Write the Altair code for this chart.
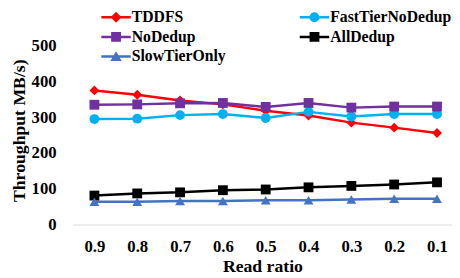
import altair as alt
import pandas as pd

read_ratio = ["0.9", "0.8", "0.7", "0.6", "0.5", "0.4", "0.3", "0.2", "0.1"]
series_names = ["TDDFS", "FastTierNoDedup", "NoDedup", "AllDedup", "SlowTierOnly"]
tddfs = [375, 363, 347, 336, 318, 305, 285, 271, 256]
fast_tier_no_dedup = [295, 296, 306, 309, 298, 315, 302, 309, 309]
no_dedup = [335, 336, 339, 340, 329, 340, 327, 330, 330]
all_dedup = [81, 87, 90, 96, 98, 104, 108, 112, 118]
slow_tier_only = [64, 64, 66, 66, 68, 68, 70, 72, 72]
y_ticks = [0, 100, 200, 300, 400, 500]

colors = ["#FF0000", "#00B0F0", "#7030A0", "#000000", "#4472C4"]
shapes = ["diamond", "circle", "square", "square", "triangle-up"]
# legend symbols: a short line with the marker on it
bar = "M-1,-0.25H5V0.25H-1Z "
legend_shapes = [
    bar + "M2,-1.1L3.1,0L2,1.1L0.9,0Z",
    bar + "M3,0A1,1,0,1,1,1,0A1,1,0,1,1,3,0Z",
    bar + "M1,-1H3V1H1Z",
    bar + "M1,-1H3V1H1Z",
    bar + "M2,-1.1L3.15,0.9H0.85Z",
]

rows = []
for name, vals in zip(series_names, [tddfs, fast_tier_no_dedup, no_dedup, all_dedup, slow_tier_only]):
    for r, v in zip(read_ratio, vals):
        rows.append({"ratio": r, "series": name, "value": v})
df = pd.DataFrame(rows)

FONT = "Times New Roman, Liberation Serif, serif"

x = alt.X(
    "ratio:O",
    sort=read_ratio,
    scale=alt.Scale(type="point", padding=0.427, align=0.59),
    axis=alt.Axis(
        title="Read ratio",
        labelAngle=0,
        labelFont=FONT,
        labelFontSize=17,
        labelFontWeight="bold",
        labelColor="black",
        labelPadding=14,
        ticks=False,
        tickSize=0,
        domainColor="#D9D9D9",
        domainWidth=1,
        grid=False,
        titleFont=FONT,
        titleFontSize=18,
        titleFontWeight="bold",
        titleColor="black",
        titleBaseline="top",
        titleY=34,
    ),
)
y = alt.Y(
    "value:Q",
    scale=alt.Scale(domain=[0, 500], nice=False),
    axis=alt.Axis(
        title="Throughput MB/s)",
        values=y_ticks,
        labelFont=FONT,
        labelFontSize=17,
        labelFontWeight="bold",
        labelColor="black",
        labelPadding=17,
        ticks=False,
        tickSize=0,
        domain=False,
        grid=False,
        titleFont=FONT,
        titleFontSize=18,
        titleFontWeight="bold",
        titleColor="black",
        titleBaseline="alphabetic",
        titleX=-49,
        titleY=86,
    ),
)

color_scale = alt.Scale(domain=series_names, range=colors)
base = alt.Chart(df)

lines = base.mark_line(strokeWidth=2.5).encode(
    x=x, y=y, color=alt.Color("series:N", scale=color_scale, legend=None)
)
points = base.mark_point(filled=True, size=100, opacity=1).encode(
    x=x,
    y=y,
    color=alt.Color("series:N", scale=color_scale, legend=None),
    shape=alt.Shape("series:N", scale=alt.Scale(domain=series_names, range=shapes), legend=None),
)
legend_layer = base.mark_point(filled=True, size=100, opacity=0).encode(
    x=x,
    y=y,
    color=alt.Color("series:N", scale=color_scale, legend=alt.Legend(title=None)),
    shape=alt.Shape(
        "series:N",
        scale=alt.Scale(domain=series_names, range=legend_shapes),
        legend=alt.Legend(title=None),
    ),
)

chart = (
    alt.layer(lines, points, legend_layer)
    .resolve_scale(color="independent", shape="independent")
    .properties(
        width=386,
        height=182,
        autosize=alt.AutoSizeParams(type="none"),
        padding={"left": 66, "top": 36, "right": 0, "bottom": 52},
    )
    .configure_view(stroke=None)
    .configure_legend(
        orient="none",
        direction="horizontal",
        legendX=26,
        legendY=-37,
        columns=2,
        columnPadding=72,
        rowPadding=4,
        padding=0,
        symbolSize=100,
        symbolStrokeWidth=0,
        symbolOpacity=1,
        labelOffset=18,
        labelFont=FONT,
        labelFontSize=16,
        labelFontWeight="bold",
        labelColor="black",
        labelLimit=300,
    )
)

chart.save("out.html", embed_options={"renderer": "svg", "actions": False})
